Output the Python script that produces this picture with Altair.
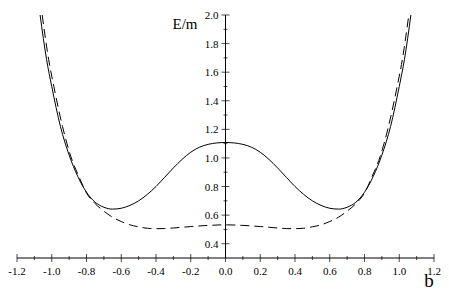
import altair as alt
import pandas as pd

# ---- data ----
solid_b = [-1.067, -1.03, -1.0, -0.95, -0.9, -0.85, -0.8, -0.75, -0.7, -0.65, -0.6, -0.55, -0.5,
           -0.45, -0.4, -0.35, -0.3, -0.25, -0.2, -0.15, -0.1, -0.05, 0.0,
           0.05, 0.1, 0.15, 0.2, 0.25, 0.3, 0.35, 0.4, 0.45, 0.5, 0.55, 0.6, 0.65, 0.7,
           0.75, 0.8, 0.85, 0.9, 0.95, 1.0, 1.03, 1.067]
solid_E = [2.0, 1.69, 1.50, 1.22, 1.02, 0.87, 0.76, 0.69, 0.655, 0.642, 0.648, 0.668, 0.70,
           0.745, 0.80, 0.865, 0.93, 0.99, 1.04, 1.075, 1.095, 1.105, 1.108,
           1.105, 1.095, 1.075, 1.04, 0.99, 0.93, 0.865, 0.80, 0.745, 0.70, 0.668, 0.648, 0.642, 0.655,
           0.69, 0.76, 0.87, 1.02, 1.22, 1.50, 1.69, 2.0]

dashed_b = [-1.055, -1.018, -0.988, -0.938, -0.89, -0.842, -0.8, -0.75, -0.7, -0.65, -0.6, -0.55,
            -0.5, -0.45, -0.4, -0.35, -0.3, -0.2, -0.1, 0.0,
            0.1, 0.2, 0.3, 0.35, 0.4, 0.45, 0.5, 0.55, 0.6, 0.65, 0.7, 0.75, 0.8,
            0.842, 0.89, 0.938, 0.988, 1.018, 1.055]
dashed_E = [2.0, 1.69, 1.50, 1.22, 1.01, 0.865, 0.755, 0.68, 0.628, 0.585, 0.555, 0.532,
            0.518, 0.508, 0.505, 0.506, 0.51, 0.52, 0.528, 0.532,
            0.528, 0.52, 0.51, 0.506, 0.505, 0.508, 0.518, 0.532, 0.555, 0.585, 0.628, 0.68, 0.755,
            0.865, 1.01, 1.22, 1.50, 1.69, 2.0]

x_major = [-1.2, -1.0, -0.8, -0.6, -0.4, -0.2, 0.0, 0.2, 0.4, 0.6, 0.8, 1.0, 1.2]
x_major_labels = ["-1.2", "-1.0", "-0.8", "-0.6", "-0.4", "-0.2", "0.0", "0.2", "0.4", "0.6", "0.8", "1.0", "1.2"]
x_minor = [-1.1, -0.9, -0.7, -0.5, -0.3, -0.1, 0.1, 0.3, 0.5, 0.7, 0.9, 1.1]
y_major = [0.4, 0.6, 0.8, 1.0, 1.2, 1.4, 1.6, 1.8, 2.0]
y_major_labels = ["0.4", "0.6", "0.8", "1.0", "1.2", "1.4", "1.6", "1.8", "2.0"]
y_minor = [0.5, 0.7, 0.9, 1.1, 1.3, 1.5, 1.7, 1.9]

X_DOMAIN = [-1.2, 1.2]
Y_DOMAIN = [0.3, 2.0]
FONT = "Liberation Serif, Times New Roman, serif"

xs = alt.Scale(domain=X_DOMAIN, nice=False, zero=False)
ys = alt.Scale(domain=Y_DOMAIN, nice=False, zero=False)

solid_df = pd.DataFrame({"b": solid_b, "E": solid_E})
dashed_df = pd.DataFrame({"b": dashed_b, "E": dashed_E})

solid = alt.Chart(solid_df).mark_line(color="black", strokeWidth=1, interpolate="monotone").encode(
    x=alt.X("b:Q", scale=xs, axis=None), y=alt.Y("E:Q", scale=ys, axis=None))
dashed = alt.Chart(dashed_df).mark_line(color="black", strokeWidth=1, strokeDash=[9, 5],
                                        interpolate="monotone").encode(
    x=alt.X("b:Q", scale=xs, axis=None), y=alt.Y("E:Q", scale=ys, axis=None))

xaxis_df = pd.DataFrame({"x1": [X_DOMAIN[0]], "x2": [X_DOMAIN[1]], "y": [Y_DOMAIN[0]]})
xaxis = alt.Chart(xaxis_df).mark_rule(color="black", strokeWidth=1).encode(
    x=alt.X("x1:Q", scale=xs, axis=None), x2="x2:Q", y=alt.Y("y:Q", scale=ys, axis=None))
yaxis_df = pd.DataFrame({"x": [0.0], "y1": [Y_DOMAIN[0]], "y2": [Y_DOMAIN[1]]})
yaxis = alt.Chart(yaxis_df).mark_rule(color="black", strokeWidth=1).encode(
    x=alt.X("x:Q", scale=xs, axis=None), y=alt.Y("y1:Q", scale=ys, axis=None), y2="y2:Q")

xmaj_df = pd.DataFrame({"x": x_major, "y": [Y_DOMAIN[0]] * len(x_major), "lab": x_major_labels})
xmin_df = pd.DataFrame({"x": x_minor, "y": [Y_DOMAIN[0]] * len(x_minor)})
ymaj_df = pd.DataFrame({"x": [0.0] * len(y_major), "y": y_major, "lab": y_major_labels})
ymin_df = pd.DataFrame({"x": [0.0] * len(y_minor), "y": y_minor})

enc = dict(x=alt.X("x:Q", scale=xs, axis=None), y=alt.Y("y:Q", scale=ys, axis=None))

xmaj = alt.Chart(xmaj_df).mark_tick(orient="vertical", size=8, thickness=1, color="black").encode(**enc)
xmin = alt.Chart(xmin_df).mark_tick(orient="vertical", size=4, thickness=1, color="black").encode(**enc)
ymaj = alt.Chart(ymaj_df).mark_tick(orient="horizontal", size=8, thickness=1, color="black").encode(**enc)
ymin = alt.Chart(ymin_df).mark_tick(orient="horizontal", size=4, thickness=1, color="black").encode(**enc)

xlab = alt.Chart(xmaj_df).mark_text(font=FONT, fontSize=11, color="black", align="center",
                                    baseline="middle", dy=14).encode(text="lab:N", **enc)
ylab = alt.Chart(ymaj_df).mark_text(font=FONT, fontSize=11, color="black", align="right",
                                    baseline="middle", dx=-7, dy=1).encode(text="lab:N", **enc)

title_df = pd.DataFrame({"x": [0.0, X_DOMAIN[1]], "y": [Y_DOMAIN[1], Y_DOMAIN[0]], "lab": ["E/m", "b"]})
elab = alt.Chart(title_df.iloc[[0]]).mark_text(font=FONT, fontSize=15, color="black", align="right",
                                               baseline="alphabetic", dx=-28, dy=14).encode(text="lab:N", **enc)
blab = alt.Chart(title_df.iloc[[1]]).mark_text(font=FONT, fontSize=19, color="black", align="center",
                                               baseline="alphabetic", dx=-5, dy=29).encode(text="lab:N", **enc)

chart = alt.layer(xaxis, yaxis, xmaj, xmin, ymaj, ymin, xlab, ylab, elab, blab, solid, dashed).properties(
    width=417, height=243,
    autosize=alt.AutoSizeParams(type="none"),
    padding={"left": 9, "top": 7, "right": 7, "bottom": 33},
    background="white",
).configure_view(strokeWidth=0)

chart.save("out.html", embed_options={"renderer": "svg", "actions": False})
